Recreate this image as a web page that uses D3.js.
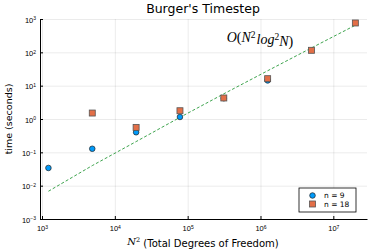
<!DOCTYPE html>
<html>
<head>
<meta charset="utf-8">
<script src="https://cdn.jsdelivr.net/npm/d3@7"></script>
<style>
  body { margin: 0; background: #fff; }
  svg { font-family: "DejaVu Sans", sans-serif; }
  .grid line { stroke: #000; stroke-opacity: 0.08; }
  .grid path { display: none; }
</style>
</head>
<body>
<svg width="374" height="249"></svg>
<script>
// N^2 values (N = 35, 70, ... 4480)
const dofs = [1225, 4900, 19600, 78400, 313600, 1254400, 5017600, 20070400];

// timings
const timeN9 = [0.034, 0.128, 0.40, 1.15, 4.2, 14.4];
const timeN18 = [null, 1.51, 0.56, 1.77, 4.27, 16.2, 115, 760];
// the O(N^2 log^2 N) guide line
const guide = [0.0068, 0.040, 0.21, 1.12, 5.7, 28, 136, 650];

const xTicks = [3, 4, 5, 6, 7];
const yTicks = [-3, -2, -1, 0, 1, 2, 3];

const [width, height] = [374, 249];
const svg = d3.select('svg');

const x = d3.scaleLog()
  .domain([Math.pow(10, 2.9725), Math.pow(10, 7.4625)])
  .range([40, 367]);

const y = d3.scaleLog()
  .domain([1e-3, 1e3])
  .range([219, 19]);

// grid lines
svg.append('g')
  .attr('class', 'grid')
  .attr('transform', 'translate(0, 219)')
  .call(d3.axisBottom(x).tickValues(xTicks.map(e => Math.pow(10, e))).tickSize(-200).tickFormat(''));

svg.append('g')
  .attr('class', 'grid')
  .attr('transform', 'translate(40, 0)')
  .call(d3.axisLeft(y).tickValues(yTicks.map(e => Math.pow(10, e))).tickSize(-327).tickFormat(''));

// axes
const xAxis = svg.append('g')
  .attr('transform', 'translate(0, 219)')
  .call(d3.axisBottom(x)
    .tickValues(xTicks.map(e => Math.pow(10, e)))
    .tickSizeInner(-3).tickSizeOuter(0)
    .tickPadding(5)
    .tickFormat(''));

const yAxis = svg.append('g')
  .attr('transform', 'translate(40, 0)')
  .call(d3.axisLeft(y)
    .tickValues(yTicks.map(e => Math.pow(10, e)))
    .tickSizeInner(-3).tickSizeOuter(0)
    .tickPadding(4)
    .tickFormat(''));

[xAxis, yAxis].forEach(a => {
  a.select('.domain').attr('stroke', '#000').attr('stroke-width', 1);
  a.selectAll('.tick line').attr('stroke', '#000');
});

// power-of-ten labels
xAxis.selectAll('.tick text')
  .attr('dy', '0.9em')
  .style('font-size', '7.5px')
  .attr('fill', '#000')
  .each(function(d) {
    const t = d3.select(this);
    t.append('tspan').text('10');
    t.append('tspan').attr('dy', '-0.45em').style('font-size', '5px').text(Math.round(Math.log10(d)));
  });

yAxis.selectAll('.tick text')
  .attr('dy', '0.4em')
  .style('font-size', '7.5px')
  .attr('fill', '#000')
  .each(function(d) {
    const t = d3.select(this);
    const e = Math.round(Math.log10(d));
    t.append('tspan').text('10');
    t.append('tspan').attr('dy', '-0.45em').style('font-size', '5px').text(e < 0 ? '\u2212' + (-e) : e);
  });

// guide line
const line = d3.line()
  .x((d, i) => x(dofs[i]))
  .y(d => y(d));

svg.append('path')
  .datum(guide)
  .attr('d', line)
  .attr('fill', 'none')
  .attr('stroke', '#3ea44e')
  .attr('stroke-width', 1)
  .attr('stroke-dasharray', '3,2');

// n = 9 circles
svg.selectAll('.n9')
  .data(timeN9)
  .enter()
  .append('circle')
  .attr('class', 'n9')
  .attr('cx', (d, i) => x(dofs[i]))
  .attr('cy', d => y(d))
  .attr('r', 2.8)
  .attr('fill', '#009afa')
  .attr('stroke', '#222')
  .attr('stroke-width', 0.7);

// n = 18 squares
svg.selectAll('.n18')
  .data(timeN18.map((v, i) => ({v, i})).filter(d => d.v !== null))
  .enter()
  .append('rect')
  .attr('class', 'n18')
  .attr('x', d => x(dofs[d.i]) - 3)
  .attr('y', d => y(d.v) - 3)
  .attr('width', 6)
  .attr('height', 6)
  .attr('fill', '#e36f47')
  .attr('stroke', '#555')
  .attr('stroke-width', 0.8);

// title
svg.append('text')
  .attr('x', 203)
  .attr('y', 13)
  .attr('text-anchor', 'middle')
  .style('font-size', '12.5px')
  .text("Burger's Timestep");

// y label
svg.append('text')
  .attr('transform', 'translate(12, 119) rotate(-90)')
  .attr('text-anchor', 'middle')
  .style('font-size', '9.5px')
  .text('time (seconds)');

// x label
const xl = svg.append('text')
  .attr('x', 203)
  .attr('y', 245)
  .attr('text-anchor', 'middle')
  .style('font-size', '10px');
xl.append('tspan').style('font-family', '"DejaVu Serif", serif').style('font-style', 'italic').text('N');
xl.append('tspan').attr('dy', '-0.45em').style('font-size', '6.5px').style('font-family', '"DejaVu Serif", serif').text('2');
xl.append('tspan').attr('dy', '0.45em').text(' (Total Degrees of Freedom)');

// complexity annotation
const ann = svg.append('text')
  .attr('x', 260)
  .attr('y', 42)
  .attr('text-anchor', 'middle')
  .style('font-family', '"Liberation Serif", "DejaVu Serif", serif')
  .style('font-size', '14px');
ann.append('tspan').style('font-style', 'italic').text('O');
ann.append('tspan').text('(');
ann.append('tspan').style('font-style', 'italic').text('N');
ann.append('tspan').attr('dy', '-0.45em').style('font-size', '9.5px').text('2');
ann.append('tspan').attr('dy', '0.45em').style('font-style', 'italic').attr('dx', 1).text('log');
ann.append('tspan').attr('dy', '-0.45em').style('font-size', '9.5px').text('2');
ann.append('tspan').attr('dy', '0.45em').style('font-style', 'italic').text('N');
ann.append('tspan').text(')');

// legend
const legend = svg.append('g').attr('transform', 'translate(299, 188)');
legend.append('rect')
  .attr('width', 57).attr('height', 24)
  .attr('fill', '#fff').attr('stroke', '#000').attr('stroke-width', 0.8);
legend.append('circle')
  .attr('cx', 13.5).attr('cy', 7.5).attr('r', 2.8)
  .attr('fill', '#009afa').attr('stroke', '#222').attr('stroke-width', 0.7);
legend.append('rect')
  .attr('x', 10.5).attr('y', 13).attr('width', 6).attr('height', 6)
  .attr('fill', '#e36f47').attr('stroke', '#555').attr('stroke-width', 0.8);
['n = 9', 'n = 18'].forEach((s, i) => {
  legend.append('text')
    .attr('x', 25).attr('y', 7.5 + i * 8.5).attr('dy', '0.35em')
    .style('font-size', '7.5px')
    .text(s);
});
</script>
</body>
</html>
